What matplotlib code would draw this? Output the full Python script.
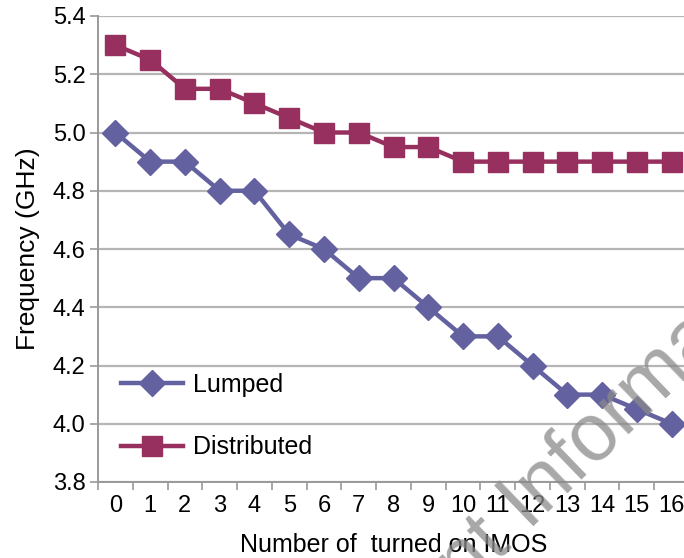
import matplotlib
matplotlib.use("Agg")
import matplotlib.pyplot as plt
import numpy as np

plt.rcParams['font.family'] = ['Liberation Sans', 'DejaVu Sans']

n_imos = list(range(17))
lumped = [5.0, 4.9, 4.9, 4.8, 4.8, 4.65, 4.6, 4.5, 4.5, 4.4, 4.3, 4.3, 4.2, 4.1, 4.1, 4.05, 4.0]
distributed = [5.3, 5.25, 5.15, 5.15, 5.1, 5.05, 5.0, 5.0, 4.95, 4.95, 4.9, 4.9, 4.9, 4.9, 4.9, 4.9, 4.9]
y_ticks = [3.8, 4.0, 4.2, 4.4, 4.6, 4.8, 5.0, 5.2, 5.4]

c_lumped = '#63619f'
c_dist = '#98305f'

fig = plt.figure(figsize=(6.84, 5.58), dpi=100)
ax = fig.add_axes([98 / 684, 1 - 482 / 558, 591 / 684, 466 / 558])

ax.plot(n_imos, lumped, color=c_lumped, lw=3.2, marker='D', ms=13.5, label='Lumped', zorder=3)
ax.plot(n_imos, distributed, color=c_dist, lw=3.2, marker='s', ms=14, label='Distributed', zorder=3)

ax.set_xlim(-0.5, 16.5)
ax.set_ylim(3.8, 5.4)
ax.set_yticks(y_ticks)
ax.set_yticklabels([f'{v:.1f}' for v in y_ticks])
ax.set_xticks(n_imos)
ax.set_xticks(np.arange(-0.5, 16.6, 1), minor=True)
ax.tick_params(axis='x', which='major', length=0, pad=9, labelsize=17)
ax.tick_params(axis='x', which='minor', length=6, color='#999999', width=1.2)
ax.tick_params(axis='y', length=6, color='#999999', width=1.2, labelsize=17, pad=3)
ax.grid(axis='y', color='#b5b5b5', lw=1.6)
ax.set_axisbelow(True)
for s in ['top', 'right']:
    ax.spines[s].set_visible(False)
for s in ['left', 'bottom']:
    ax.spines[s].set_color('#999999')
    ax.spines[s].set_linewidth(1.4)

ax.set_ylabel('Frequency (GHz)', fontsize=19, labelpad=9)
ax.set_xlabel('Number of  turned on IMOS', fontsize=18, labelpad=12)

ax.legend(loc='lower left', bbox_to_anchor=(0.0, 0.0), frameon=False, fontsize=18,
          labelspacing=1.55, handlelength=2.5, handletextpad=0.4)

# watermark from the scanned source
fig.text(580 / 684, 1 - 452 / 558, 'nt Informa', fontsize=58, color='#8a8a8a', alpha=0.75,
         rotation=44, ha='center', va='center', rotation_mode='anchor')

fig.savefig('out.png', dpi=100)
